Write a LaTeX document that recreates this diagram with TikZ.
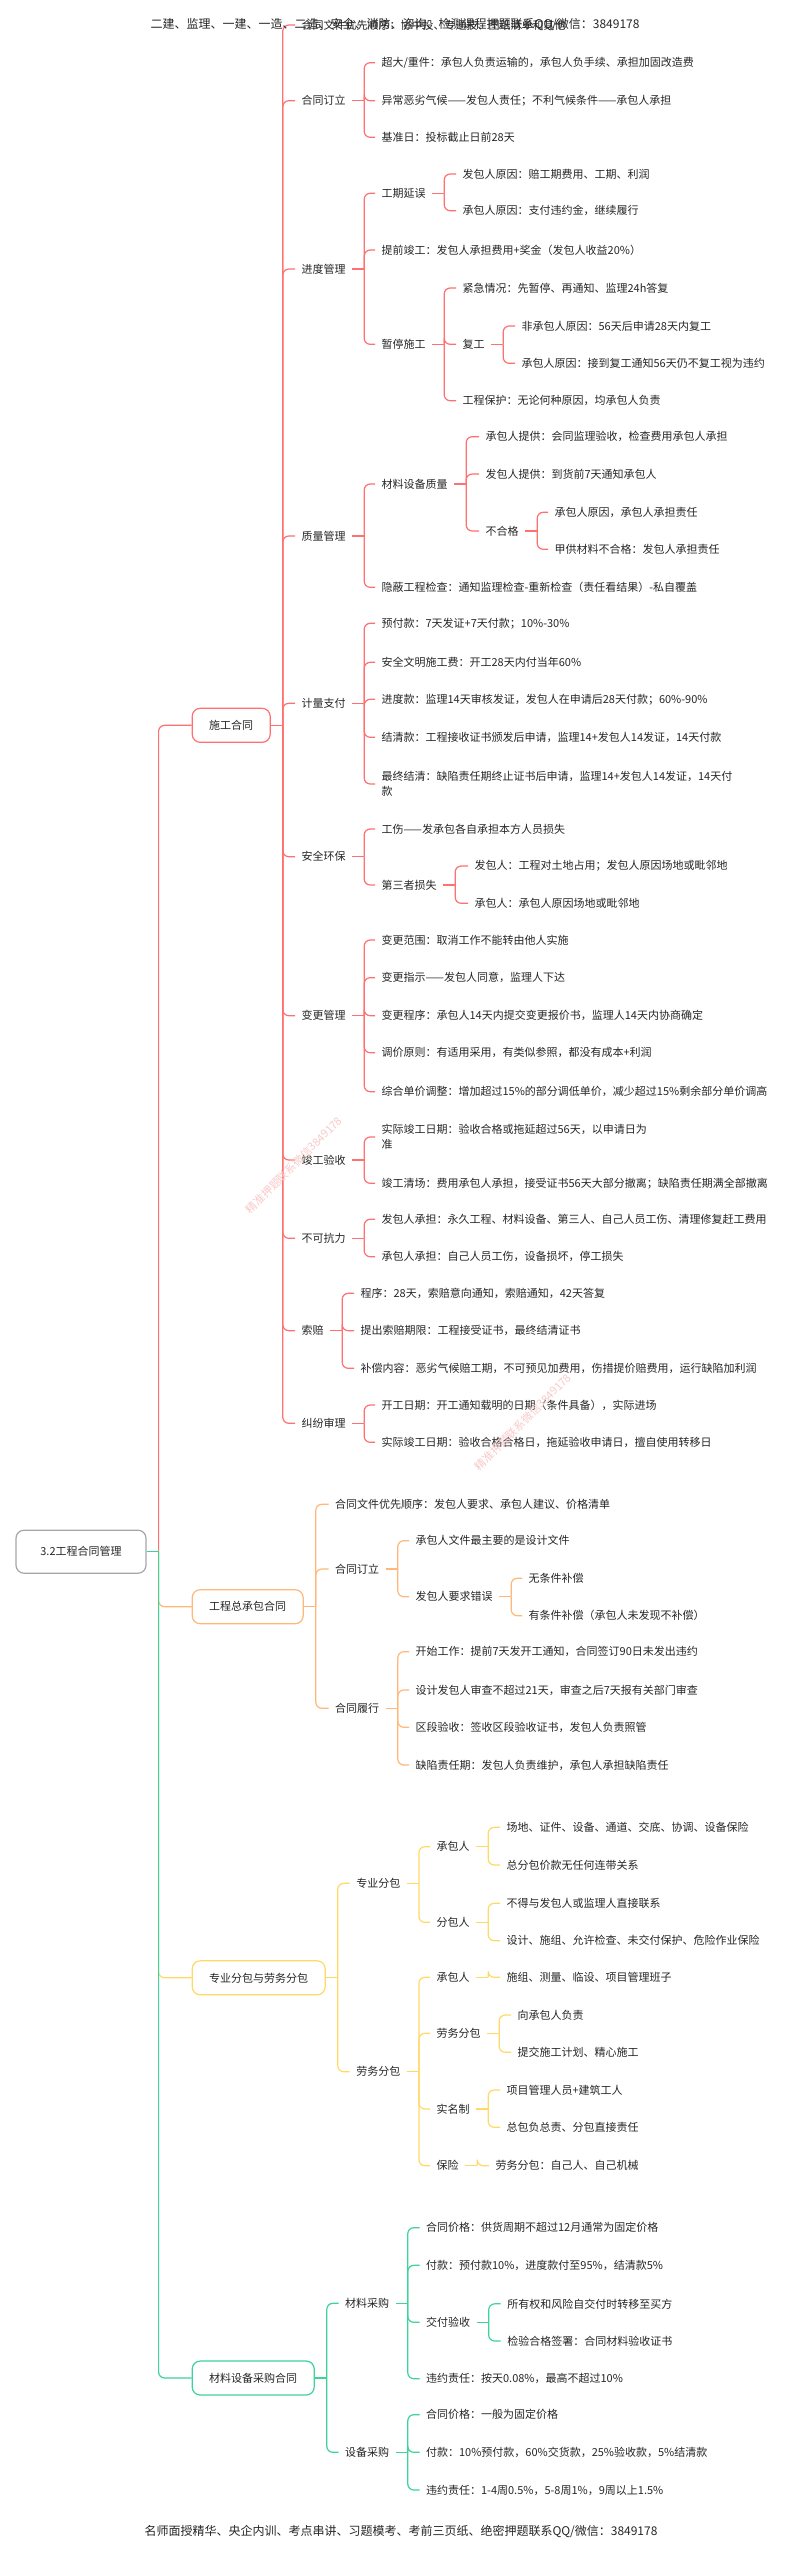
\documentclass[tikz,border=0pt]{standalone}
\usepackage{fontspec}
\setmainfont{Noto Sans CJK SC}
\definecolor{clr}{HTML}{FF7070}
\definecolor{clo}{HTML}{FFB877}
\definecolor{cly}{HTML}{FFD966}
\definecolor{clg}{HTML}{3DD39B}
\definecolor{ink}{HTML}{262626}
\definecolor{wmk}{HTML}{F9C9C9}
\newcommand{\lk}[3]{\draw[#1] (#2.east) -- ++(12,0); \draw[#1,rounded corners=6pt] ([xshift=12pt]#2.east) |- (#3.west);}

\begin{document}
\begin{tikzpicture}[x=1pt,y=-1pt,line width=1.2pt,
	txt/.style={anchor=west,inner xsep=6pt,inner ysep=2pt,align=left,text=ink,font=\fontsize{11}{15}\selectfont},
	box/.style={anchor=west,draw=#1,fill=white,rounded corners=8pt,minimum height=34pt,inner xsep=17pt,text=ink,font=\fontsize{11}{15}\selectfont},
	wm/.style={text=wmk,font=\fontsize{11}{13}\selectfont,rotate=45}]
	\fill[white] (0,0) rectangle (800,2552);
	\useasboundingbox (0,0) rectangle (800,2552);

	\node[box=gray!70,anchor=center,minimum width=130pt,minimum height=43pt] (root) at (81,1551.7) {3.2工程合同管理};

	\node[box=clr] (sg) at (191.6,725.3) {施工合同};
	\node[txt] (sg1) at (295,25) {合同文件优先顺序：协中投、专通技、图纸清单和其他};
	\node[txt] (sg2) at (295,100.7) {合同订立};
		\node[txt] (sg2a) at (375,62.7) {超大/重件：承包人负责运输的，承包人负手续、承担加固改造费};
		\node[txt] (sg2b) at (375,100.7) {异常恶劣气候——发包人责任；不利气候条件——承包人承担};
		\node[txt] (sg2c) at (375,137.3) {基准日：投标截止日前28天};
	\node[txt] (sg3) at (295,269) {进度管理};
		\node[txt] (sg3a) at (375,193.3) {工期延误};
			\node[txt] (sg3a1) at (456,174) {发包人原因：赔工期费用、工期、利润};
			\node[txt] (sg3a2) at (456,210.7) {承包人原因：支付违约金，继续履行};
		\node[txt] (sg3b) at (375,250) {提前竣工：发包人承担费用+奖金（发包人收益20\%）};
		\node[txt] (sg3c) at (375,344.3) {暂停施工};
			\node[txt] (sg3c1) at (456,288) {紧急情况：先暂停、再通知、监理24h答复};
			\node[txt] (sg3c2) at (456,344.3) {复工};
				\node[txt] (sg3c2a) at (515,326) {非承包人原因：56天后申请28天内复工};
				\node[txt] (sg3c2b) at (515,363.3) {承包人原因：接到复工通知56天仍不复工视为违约};
			\node[txt] (sg3c3) at (456,400.7) {工程保护：无论何种原因，均承包人负责};
	\node[txt] (sg4) at (295,536) {质量管理};
		\node[txt] (sg4a) at (375,484) {材料设备质量};
			\node[txt] (sg4a1) at (479,436.7) {承包人提供：会同监理验收，检查费用承包人承担};
			\node[txt] (sg4a2) at (479,474) {发包人提供：到货前7天通知承包人};
			\node[txt] (sg4a3) at (479,531) {不合格};
				\node[txt] (sg4a3a) at (548,512.3) {承包人原因，承包人承担责任};
				\node[txt] (sg4a3b) at (548,549.3) {甲供材料不合格：发包人承担责任};
		\node[txt] (sg4b) at (375,587.3) {隐蔽工程检查：通知监理检查-重新检查（责任看结果）-私自覆盖};
	\node[txt] (sg5) at (295,703.3) {计量支付};
		\node[txt] (sg5a) at (375,623.3) {预付款：7天发证+7天付款；10\%-30\%};
		\node[txt] (sg5b) at (375,662.3) {安全文明施工费：开工28天内付当年60\%};
		\node[txt] (sg5c) at (375,699.3) {进度款：监理14天审核发证，发包人在申请后28天付款；60\%-90\%};
		\node[txt] (sg5d) at (375,737.3) {结清款：工程接收证书颁发后申请，监理14+发包人14发证，14天付款};
		\node[txt] (sg5e) at (375,784) {最终结清：缺陷责任期终止证书后申请，监理14+发包人14发证，14天付\\款};
	\node[txt] (sg6) at (295,856.7) {安全环保};
		\node[txt] (sg6a) at (375,829) {工伤——发承包各自承担本方人员损失};
		\node[txt] (sg6b) at (375,885) {第三者损失};
			\node[txt] (sg6b1) at (468,866) {发包人：工程对土地占用；发包人原因场地或毗邻地};
			\node[txt] (sg6b2) at (468,903.3) {承包人：承包人原因场地或毗邻地};
	\node[txt] (sg7) at (295,1015.7) {变更管理};
		\node[txt] (sg7a) at (375,940) {变更范围：取消工作不能转由他人实施};
		\node[txt] (sg7b) at (375,977.7) {变更指示——发包人同意，监理人下达};
		\node[txt] (sg7c) at (375,1015.7) {变更程序：承包人14天内提交变更报价书，监理人14天内协商确定};
		\node[txt] (sg7d) at (375,1052.7) {调价原则：有适用采用，有类似参照，都没有成本+利润};
		\node[txt] (sg7e) at (375,1091.7) {综合单价调整：增加超过15\%的部分调低单价，减少超过15\%剩余部分单价调高};
	\node[txt] (sg8) at (295,1160) {竣工验收};
		\node[txt] (sg8a) at (375,1137) {实际竣工日期：验收合格或拖延超过56天，以申请日为\\准};
		\node[txt] (sg8b) at (375,1183.3) {竣工清场：费用承包人承担，接受证书56天大部分撤离；缺陷责任期满全部撤离};
	\node[txt] (sg9) at (295,1238.3) {不可抗力};
		\node[txt] (sg9a) at (375,1219.3) {发包人承担：永久工程、材料设备、第三人、自己人员工伤、清理修复赶工费用};
		\node[txt] (sg9b) at (375,1256.7) {承包人承担：自己人员工伤，设备损坏，停工损失};
	\node[txt] (sg10) at (295,1330.7) {索赔};
		\node[txt] (sg10a) at (354,1293.3) {程序：28天，索赔意向通知，索赔通知，42天答复};
		\node[txt] (sg10b) at (354,1330.7) {提出索赔期限：工程接受证书，最终结清证书};
		\node[txt] (sg10c) at (354,1368.3) {补偿内容：恶劣气候赔工期，不可预见加费用，伤措提价赔费用，运行缺陷加利润};
	\node[txt] (sg11) at (295,1423.3) {纠纷审理};
		\node[txt] (sg11a) at (375,1405) {开工日期：开工通知载明的日期（条件具备），实际进场};
		\node[txt] (sg11b) at (375,1442.3) {实际竣工日期：验收合格合格日，拖延验收申请日，擅自使用转移日};

	\node[box=clo] (zb) at (191.6,1606.7) {工程总承包合同};
	\node[txt] (zb1) at (328.6,1504.3) {合同文件优先顺序：发包人要求、承包人建议、价格清单};
	\node[txt] (zb2) at (328.6,1569) {合同订立};
		\node[txt] (zb2a) at (409,1540.7) {承包人文件最主要的是设计文件};
		\node[txt] (zb2b) at (409,1596.7) {发包人要求错误};
			\node[txt] (zb2b1) at (522,1578.3) {无条件补偿};
			\node[txt] (zb2b2) at (522,1615.7) {有条件补偿（承包人未发现不补偿）};
	\node[txt] (zb3) at (328.6,1708.3) {合同履行};
		\node[txt] (zb3a) at (409,1651.7) {开始工作：提前7天发开工通知，合同签订90日未发出违约};
		\node[txt] (zb3b) at (409,1690) {设计发包人审查不超过21天，审查之后7天报有关部门审查};
		\node[txt] (zb3c) at (409,1727.3) {区段验收：签收区段验收证书，发包人负责照管};
		\node[txt] (zb3d) at (409,1765) {缺陷责任期：发包人负责维护，承包人承担缺陷责任};

	\node[box=cly] (fb) at (191.6,1977.8) {专业分包与劳务分包};
	\node[txt] (fb1) at (349.7,1883.3) {专业分包};
		\node[txt] (fb1a) at (430,1846.7) {承包人};
			\node[txt] (fb1a1) at (500,1827.3) {场地、证件、设备、通道、交底、协调、设备保险};
			\node[txt] (fb1a2) at (500,1865) {总分包价款无任何连带关系};
		\node[txt] (fb1b) at (430,1922.3) {分包人};
			\node[txt] (fb1b1) at (500,1903.3) {不得与发包人或监理人直接联系};
			\node[txt] (fb1b2) at (500,1940.7) {设计、施组、允许检查、未交付保护、危险作业保险};
	\node[txt] (fb2) at (349.7,2071.7) {劳务分包};
		\node[txt] (fb2a) at (430,1977.3) {承包人};
			\node[txt] (fb2a1) at (500,1977.3) {施组、测量、临设、项目管理班子};
		\node[txt] (fb2b) at (430,2033.3) {劳务分包};
			\node[txt] (fb2b1) at (511,2015) {向承包人负责};
			\node[txt] (fb2b2) at (511,2052.3) {提交施工计划、精心施工};
		\node[txt] (fb2c) at (430,2109) {实名制};
			\node[txt] (fb2c1) at (500,2090) {项目管理人员+建筑工人};
			\node[txt] (fb2c2) at (500,2127.3) {总包负总责、分包直接责任};
		\node[txt] (fb2d) at (430,2165.7) {保险};
			\node[txt] (fb2d1) at (489,2165.7) {劳务分包：自己人、自己机械};

	\node[box=clg] (cg) at (191.6,2378) {材料设备采购合同};
	\node[txt] (cg1) at (338.6,2303.3) {材料采购};
		\node[txt] (cg1a) at (419.5,2227.7) {合同价格：供货周期不超过12月通常为固定价格};
		\node[txt] (cg1b) at (419.5,2265.3) {付款：预付款10\%，进度款付至95\%，结清款5\%};
		\node[txt] (cg1c) at (419.5,2322.3) {交付验收};
			\node[txt] (cg1c1) at (500.7,2303.8) {所有权和风险自交付时转移至买方};
			\node[txt] (cg1c2) at (500.7,2341) {检验合格签署：合同材料验收证书};
		\node[txt] (cg1d) at (419.5,2378.7) {违约责任：按天0.08\%，最高不超过10\%};
	\node[txt] (cg2) at (338.6,2452.3) {设备采购};
		\node[txt] (cg2a) at (419.5,2414.7) {合同价格：一般为固定价格};
		\node[txt] (cg2b) at (419.5,2452.3) {付款：10\%预付款，60\%交货款，25\%验收款，5\%结清款};
		\node[txt] (cg2c) at (419.5,2490) {违约责任：1-4周0.5\%，5-8周1\%，9周以上1.5\%};

	\lk{clr}{root}{sg}
	\lk{clo}{root}{zb}
	\lk{cly}{root}{fb}
	\lk{clg}{root}{cg}
	\foreach \c in {sg1,sg2,sg3,sg4,sg5,sg6,sg7,sg8,sg9,sg10,sg11} {\lk{clr}{sg}{\c}}
	\foreach \c in {sg2a,sg2b,sg2c} {\lk{clr}{sg2}{\c}}
	\foreach \c in {sg3a,sg3b,sg3c} {\lk{clr}{sg3}{\c}}
	\foreach \c in {sg3a1,sg3a2} {\lk{clr}{sg3a}{\c}}
	\foreach \c in {sg3c1,sg3c2,sg3c3} {\lk{clr}{sg3c}{\c}}
	\foreach \c in {sg3c2a,sg3c2b} {\lk{clr}{sg3c2}{\c}}
	\foreach \c in {sg4a,sg4b} {\lk{clr}{sg4}{\c}}
	\foreach \c in {sg4a1,sg4a2,sg4a3} {\lk{clr}{sg4a}{\c}}
	\foreach \c in {sg4a3a,sg4a3b} {\lk{clr}{sg4a3}{\c}}
	\foreach \c in {sg5a,sg5b,sg5c,sg5d,sg5e} {\lk{clr}{sg5}{\c}}
	\foreach \c in {sg6a,sg6b} {\lk{clr}{sg6}{\c}}
	\foreach \c in {sg6b1,sg6b2} {\lk{clr}{sg6b}{\c}}
	\foreach \c in {sg7a,sg7b,sg7c,sg7d,sg7e} {\lk{clr}{sg7}{\c}}
	\foreach \c in {sg8a,sg8b} {\lk{clr}{sg8}{\c}}
	\foreach \c in {sg9a,sg9b} {\lk{clr}{sg9}{\c}}
	\foreach \c in {sg10a,sg10b,sg10c} {\lk{clr}{sg10}{\c}}
	\foreach \c in {sg11a,sg11b} {\lk{clr}{sg11}{\c}}
	\foreach \c in {zb1,zb2,zb3} {\lk{clo}{zb}{\c}}
	\foreach \c in {zb2a,zb2b} {\lk{clo}{zb2}{\c}}
	\foreach \c in {zb2b1,zb2b2} {\lk{clo}{zb2b}{\c}}
	\foreach \c in {zb3a,zb3b,zb3c,zb3d} {\lk{clo}{zb3}{\c}}
	\foreach \c in {fb1,fb2} {\lk{cly}{fb}{\c}}
	\foreach \c in {fb1a,fb1b} {\lk{cly}{fb1}{\c}}
	\foreach \c in {fb1a1,fb1a2} {\lk{cly}{fb1a}{\c}}
	\foreach \c in {fb1b1,fb1b2} {\lk{cly}{fb1b}{\c}}
	\foreach \c in {fb2a,fb2b,fb2c,fb2d} {\lk{cly}{fb2}{\c}}
	\lk{cly}{fb2a}{fb2a1}
	\foreach \c in {fb2b1,fb2b2} {\lk{cly}{fb2b}{\c}}
	\foreach \c in {fb2c1,fb2c2} {\lk{cly}{fb2c}{\c}}
	\lk{cly}{fb2d}{fb2d1}
	\foreach \c in {cg1,cg2} {\lk{clg}{cg}{\c}}
	\foreach \c in {cg1a,cg1b,cg1c,cg1d} {\lk{clg}{cg1}{\c}}
	\foreach \c in {cg1c1,cg1c2} {\lk{clg}{cg1c}{\c}}
	\foreach \c in {cg2a,cg2b,cg2c} {\lk{clg}{cg2}{\c}}

	\node[wm] (wm1) at (294,1165) {精准押题联系微信3849178};
	\node[wm] (wm2) at (523,1422) {精准押题联系微信3849178};
	\node[anchor=west,inner sep=0pt,text=ink,font=\fontsize{12}{14}\selectfont] (hd) at (150,24) {二建、监理、一建、一造、二造、安全、消防、咨询、检测课程押题联系QQ/微信：3849178};
	\node[inner sep=0pt,text=ink,font=\fontsize{12}{14}\selectfont] (ft) at (401,2531) {名师面授精华、央企内训、考点串讲、习题模考、考前三页纸、绝密押题联系QQ/微信：3849178};
\end{tikzpicture}
\end{document}
